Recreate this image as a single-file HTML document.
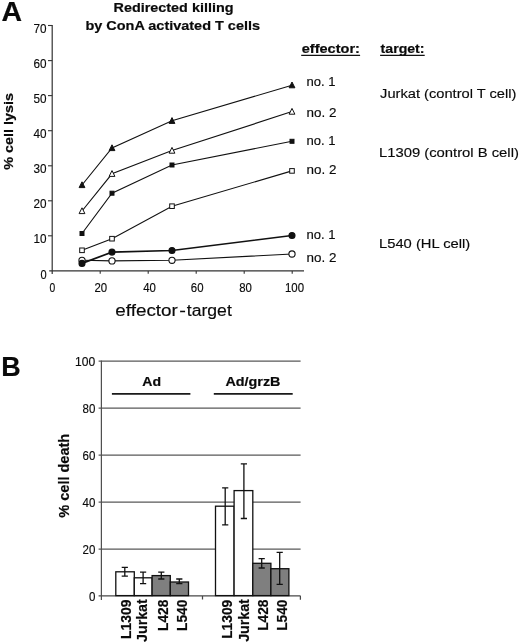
<!DOCTYPE html>
<html><head><meta charset="utf-8"><title>Figure</title>
<style>html,body{margin:0;padding:0;background:#fff}svg{display:block}</style></head>
<body>
<svg width="520" height="644" viewBox="0 0 520 644">
<rect width="520" height="644" fill="#fff"/>
<g font-family="'Liberation Sans', sans-serif" fill="#0a0a0a" stroke="#0a0a0a" stroke-width="0">
<path d="M52.2 25 V273.9 M49.2 270.9 H304" stroke="#333" stroke-width="1.2" fill="none"/>
<path d="M48.0 235.8 H52.2" stroke="#333" stroke-width="1.1"/>
<path d="M48.0 200.8 H52.2" stroke="#333" stroke-width="1.1"/>
<path d="M48.0 165.8 H52.2" stroke="#333" stroke-width="1.1"/>
<path d="M48.0 130.7 H52.2" stroke="#333" stroke-width="1.1"/>
<path d="M48.0 95.6 H52.2" stroke="#333" stroke-width="1.1"/>
<path d="M48.0 60.6 H52.2" stroke="#333" stroke-width="1.1"/>
<path d="M48.0 25.5 H52.2" stroke="#333" stroke-width="1.1"/>
<path d="M100.2 270.9 V273.7" stroke="#333" stroke-width="1.1"/>
<path d="M148.2 270.9 V273.7" stroke="#333" stroke-width="1.1"/>
<path d="M196.2 270.9 V273.7" stroke="#333" stroke-width="1.1"/>
<path d="M244.2 270.9 V273.7" stroke="#333" stroke-width="1.1"/>
<path d="M292.2 270.9 V273.7" stroke="#333" stroke-width="1.1"/>
<path d="M82 185 L112 148 L172 120.8 L292 85.2" stroke="#111" stroke-width="1.1" fill="none"/>
<path d="M82 181.8 L84.9 187.6 L79.1 187.6 Z" fill="#111" stroke="#111" stroke-width="1"/>
<path d="M112 144.8 L114.9 150.6 L109.1 150.6 Z" fill="#111" stroke="#111" stroke-width="1"/>
<path d="M172 117.6 L174.9 123.39999999999999 L169.1 123.39999999999999 Z" fill="#111" stroke="#111" stroke-width="1"/>
<path d="M292 82.0 L294.9 87.8 L289.1 87.8 Z" fill="#111" stroke="#111" stroke-width="1"/>
<path d="M82 211 L112 173.8 L172 150.6 L292 111.6" stroke="#111" stroke-width="1.1" fill="none"/>
<path d="M82 207.8 L84.9 213.6 L79.1 213.6 Z" fill="#fff" stroke="#111" stroke-width="1"/>
<path d="M112 170.60000000000002 L114.9 176.4 L109.1 176.4 Z" fill="#fff" stroke="#111" stroke-width="1"/>
<path d="M172 147.4 L174.9 153.2 L169.1 153.2 Z" fill="#fff" stroke="#111" stroke-width="1"/>
<path d="M292 108.39999999999999 L294.9 114.19999999999999 L289.1 114.19999999999999 Z" fill="#fff" stroke="#111" stroke-width="1"/>
<path d="M82 233.5 L112 193.2 L172 165 L292 141.3" stroke="#111" stroke-width="1.1" fill="none"/>
<rect x="80.0" y="231.5" width="4.0" height="4.0" fill="#111" stroke="#111" stroke-width="1"/>
<rect x="110.0" y="191.2" width="4.0" height="4.0" fill="#111" stroke="#111" stroke-width="1"/>
<rect x="170.0" y="163.0" width="4.0" height="4.0" fill="#111" stroke="#111" stroke-width="1"/>
<rect x="290.0" y="139.3" width="4.0" height="4.0" fill="#111" stroke="#111" stroke-width="1"/>
<path d="M82 250.3 L112 238.7 L172 206.2 L292 170.9" stroke="#111" stroke-width="1.1" fill="none"/>
<rect x="79.7" y="248.0" width="4.6" height="4.6" fill="#fff" stroke="#111" stroke-width="1"/>
<rect x="109.7" y="236.39999999999998" width="4.6" height="4.6" fill="#fff" stroke="#111" stroke-width="1"/>
<rect x="169.7" y="203.89999999999998" width="4.6" height="4.6" fill="#fff" stroke="#111" stroke-width="1"/>
<rect x="289.7" y="168.6" width="4.6" height="4.6" fill="#fff" stroke="#111" stroke-width="1"/>
<path d="M82 260.3 L112 260.9 L172 260.3 L292 254" stroke="#111" stroke-width="1.1" fill="none"/>
<circle cx="82" cy="260.3" r="3.1" fill="#fff" stroke="#111" stroke-width="1.1"/>
<circle cx="112" cy="260.9" r="3.1" fill="#fff" stroke="#111" stroke-width="1.1"/>
<circle cx="172" cy="260.3" r="3.1" fill="#fff" stroke="#111" stroke-width="1.1"/>
<circle cx="292" cy="254" r="3.1" fill="#fff" stroke="#111" stroke-width="1.1"/>
<path d="M82 263.4 L112 252.1 L172 250.5 L292 235.5" stroke="#111" stroke-width="1.7" fill="none"/>
<circle cx="82" cy="263.4" r="3.0" fill="#111" stroke="#111" stroke-width="1.1"/>
<circle cx="112" cy="252.1" r="3.0" fill="#111" stroke="#111" stroke-width="1.1"/>
<circle cx="172" cy="250.5" r="3.0" fill="#111" stroke="#111" stroke-width="1.1"/>
<circle cx="292" cy="235.5" r="3.0" fill="#111" stroke="#111" stroke-width="1.1"/>
<path d="M98.60000000000001 549.1 H300.6" stroke="#585858" stroke-width="1.25" fill="none"/>
<path d="M98.60000000000001 502.1 H300.6" stroke="#585858" stroke-width="1.25" fill="none"/>
<path d="M98.60000000000001 455.1 H300.6" stroke="#585858" stroke-width="1.25" fill="none"/>
<path d="M98.60000000000001 408.1 H300.6" stroke="#585858" stroke-width="1.25" fill="none"/>
<path d="M98.60000000000001 361.1 H300.6" stroke="#585858" stroke-width="1.25" fill="none"/>
<path d="M101.4 360.6 V600.0" stroke="#505050" stroke-width="1.25" fill="none"/>
<path d="M98.60000000000001 595.8 H300.6 M202.5 596.0 v3.5 M300.4 596.0 v3.8" stroke="#484848" stroke-width="1.25" fill="none"/>
<path d="M111.9 393.8 H190.4 M213.8 393.8 H292.7" stroke="#1a1a1a" stroke-width="1.7"/>
<rect x="115.8" y="571.8" width="18.50" height="23.80" fill="#fff" stroke="#111" stroke-width="1.3"/>
<rect x="134.3" y="577.8" width="17.80" height="17.80" fill="#fff" stroke="#111" stroke-width="1.3"/>
<rect x="152.1" y="575.6" width="18.20" height="20.00" fill="#7f7f7f" stroke="#111" stroke-width="1.3"/>
<rect x="170.3" y="582.0" width="18.20" height="13.60" fill="#7f7f7f" stroke="#111" stroke-width="1.3"/>
<rect x="215.5" y="506.2" width="18.60" height="89.40" fill="#fff" stroke="#111" stroke-width="1.3"/>
<rect x="234.1" y="490.6" width="18.70" height="105.00" fill="#fff" stroke="#111" stroke-width="1.3"/>
<rect x="252.8" y="563.3" width="18.10" height="32.30" fill="#7f7f7f" stroke="#111" stroke-width="1.3"/>
<rect x="270.9" y="568.7" width="18.00" height="26.90" fill="#7f7f7f" stroke="#111" stroke-width="1.3"/>
<path d="M124.8 567.3 V576.1 M121.7 567.3 h6.2 M121.7 576.1 h6.2" stroke="#111" stroke-width="1.3" fill="none"/>
<path d="M143.1 572.1 V583.7 M140.0 572.1 h6.2 M140.0 583.7 h6.2" stroke="#111" stroke-width="1.3" fill="none"/>
<path d="M161.3 572.1 V579.0 M158.20000000000002 572.1 h6.2 M158.20000000000002 579.0 h6.2" stroke="#111" stroke-width="1.3" fill="none"/>
<path d="M179.3 579.0 V583.7 M176.20000000000002 579.0 h6.2 M176.20000000000002 583.7 h6.2" stroke="#111" stroke-width="1.3" fill="none"/>
<path d="M225.2 487.9 V524.9 M222.1 487.9 h6.2 M222.1 524.9 h6.2" stroke="#111" stroke-width="1.3" fill="none"/>
<path d="M243.9 463.9 V518.5 M240.8 463.9 h6.2 M240.8 518.5 h6.2" stroke="#111" stroke-width="1.3" fill="none"/>
<path d="M261.7 558.6 V568 M258.59999999999997 558.6 h6.2 M258.59999999999997 568 h6.2" stroke="#111" stroke-width="1.3" fill="none"/>
<path d="M279.7 552.4 V584.4 M276.59999999999997 552.4 h6.2 M276.59999999999997 584.4 h6.2" stroke="#111" stroke-width="1.3" fill="none"/>
<text transform="translate(1.40,21.10) scale(1.0150,1)" font-size="28" font-weight="bold" stroke-width="0.2">A</text>
<text transform="translate(1.14,376.20) scale(0.9611,1)" font-size="28" font-weight="bold" stroke-width="0.2">B</text>
<text transform="translate(113.50,12.40) scale(1.0592,1)" font-size="13.6" font-weight="bold" stroke-width="0.2">Redirected killing</text>
<text transform="translate(85.40,29.50) scale(1.0638,1)" font-size="13.6" font-weight="bold" stroke-width="0.2">by ConA activated T cells</text>
<text transform="translate(40.40,278.50) scale(0.8857,1)" font-size="12.5" stroke-width="0.15">0</text>
<text transform="translate(33.50,243.45) scale(0.9389,1)" font-size="12.5" stroke-width="0.15">10</text>
<text transform="translate(33.50,208.40) scale(0.9389,1)" font-size="12.5" stroke-width="0.15">20</text>
<text transform="translate(33.50,173.35) scale(0.9389,1)" font-size="12.5" stroke-width="0.15">30</text>
<text transform="translate(33.50,138.30) scale(0.9389,1)" font-size="12.5" stroke-width="0.15">40</text>
<text transform="translate(33.50,103.25) scale(0.9389,1)" font-size="12.5" stroke-width="0.15">50</text>
<text transform="translate(33.50,68.20) scale(0.9389,1)" font-size="12.5" stroke-width="0.15">60</text>
<text transform="translate(33.50,33.15) scale(0.9389,1)" font-size="12.5" stroke-width="0.15">70</text>
<text transform="translate(49.50,291.50) scale(0.8571,1)" font-size="12" stroke-width="0.15">0</text>
<text transform="translate(94.50,291.50) scale(0.9507,1)" font-size="12" stroke-width="0.15">20</text>
<text transform="translate(143.20,291.50) scale(0.9507,1)" font-size="12" stroke-width="0.15">40</text>
<text transform="translate(190.80,291.50) scale(0.9507,1)" font-size="12" stroke-width="0.15">60</text>
<text transform="translate(239.20,291.50) scale(0.9507,1)" font-size="12" stroke-width="0.15">80</text>
<text transform="translate(285.00,291.50) scale(0.9534,1)" font-size="12" stroke-width="0.15">100</text>
<text transform="translate(301.70,53.30) scale(1.1204,1)" font-size="13" font-weight="bold" stroke-width="0.2">effector:</text>
<path d="M301.2 55.4 H360.1" stroke="#111" stroke-width="1.1"/>
<text transform="translate(380.60,53.30) scale(1.0868,1)" font-size="13" font-weight="bold" stroke-width="0.2">target:</text>
<path d="M380.1 55.4 H424.7" stroke="#111" stroke-width="1.1"/>
<text transform="translate(306.50,85.90) scale(1.0297,1)" font-size="12.7" stroke-width="0.15">no. 1</text>
<text transform="translate(306.50,117.00) scale(1.0582,1)" font-size="12.7" stroke-width="0.15">no. 2</text>
<text transform="translate(306.50,145.10) scale(1.0297,1)" font-size="12.7" stroke-width="0.15">no. 1</text>
<text transform="translate(306.50,173.80) scale(1.0582,1)" font-size="12.7" stroke-width="0.15">no. 2</text>
<text transform="translate(306.50,239.00) scale(1.0297,1)" font-size="12.7" stroke-width="0.15">no. 1</text>
<text transform="translate(306.50,261.50) scale(1.0582,1)" font-size="12.7" stroke-width="0.15">no. 2</text>
<text transform="translate(380.10,98.00) scale(1.0866,1)" font-size="13.5" stroke-width="0.15">Jurkat (control T cell)</text>
<text transform="translate(379.00,156.70) scale(1.0978,1)" font-size="13.5" stroke-width="0.15">L1309 (control B cell)</text>
<text transform="translate(379.01,247.50) scale(1.0940,1)" font-size="13.5" stroke-width="0.15">L540 (HL cell)</text>
<text transform="translate(88.90,601.00) scale(0.9143,1)" font-size="12.6" stroke-width="0.15">0</text>
<text transform="translate(82.50,554.00) scale(0.9140,1)" font-size="12.6" stroke-width="0.15">20</text>
<text transform="translate(82.50,507.00) scale(0.9140,1)" font-size="12.6" stroke-width="0.15">40</text>
<text transform="translate(82.50,460.00) scale(0.9140,1)" font-size="12.6" stroke-width="0.15">60</text>
<text transform="translate(82.50,413.00) scale(0.9140,1)" font-size="12.6" stroke-width="0.15">80</text>
<text transform="translate(75.10,366.00) scale(0.9615,1)" font-size="12.6" stroke-width="0.15">100</text>
<text transform="translate(142.30,386.20) scale(1.0423,1)" font-size="13.5" font-weight="bold" stroke-width="0.2">Ad</text>
<text transform="translate(225.40,386.20) scale(1.0655,1)" font-size="13.5" font-weight="bold" stroke-width="0.2">Ad/grzB</text>
<text transform="translate(13.20,169.80) rotate(-90) scale(1.0571,1)" font-size="13.6" font-weight="bold" stroke-width="0.2">% cell lysis</text>
<text transform="translate(69.40,517.70) rotate(-90) scale(1.0159,1)" font-size="14.3" font-weight="bold" stroke-width="0.2">% cell death</text>
<text transform="translate(130.70,639.00) rotate(-90) scale(0.9657,1)" font-size="14.4" font-weight="bold" stroke-width="0.2">L1309</text>
<text transform="translate(147.00,641.90) rotate(-90) scale(0.9885,1)" font-size="14.4" font-weight="bold" stroke-width="0.2">Jurkat</text>
<text transform="translate(168.30,631.00) rotate(-90) scale(0.9574,1)" font-size="14.4" font-weight="bold" stroke-width="0.2">L428</text>
<text transform="translate(187.00,631.00) rotate(-90) scale(0.9574,1)" font-size="14.4" font-weight="bold" stroke-width="0.2">L540</text>
<text transform="translate(231.70,638.80) rotate(-90) scale(0.9559,1)" font-size="14.4" font-weight="bold" stroke-width="0.2">L1309</text>
<text transform="translate(249.40,641.80) rotate(-90) scale(0.9862,1)" font-size="14.4" font-weight="bold" stroke-width="0.2">Jurkat</text>
<text transform="translate(268.10,630.80) rotate(-90) scale(0.9513,1)" font-size="14.4" font-weight="bold" stroke-width="0.2">L428</text>
<text transform="translate(286.90,630.80) rotate(-90) scale(0.9513,1)" font-size="14.4" font-weight="bold" stroke-width="0.2">L540</text>
<text y="316.2" font-size="16" stroke-width="0.15"><tspan x="115.30" textLength="62.51" lengthAdjust="spacingAndGlyphs">effector</tspan><tspan x="179.20" textLength="6.61" lengthAdjust="spacingAndGlyphs">-</tspan><tspan x="186.80" textLength="44.99" lengthAdjust="spacingAndGlyphs">target</tspan></text>
</g></svg>
</body></html>
